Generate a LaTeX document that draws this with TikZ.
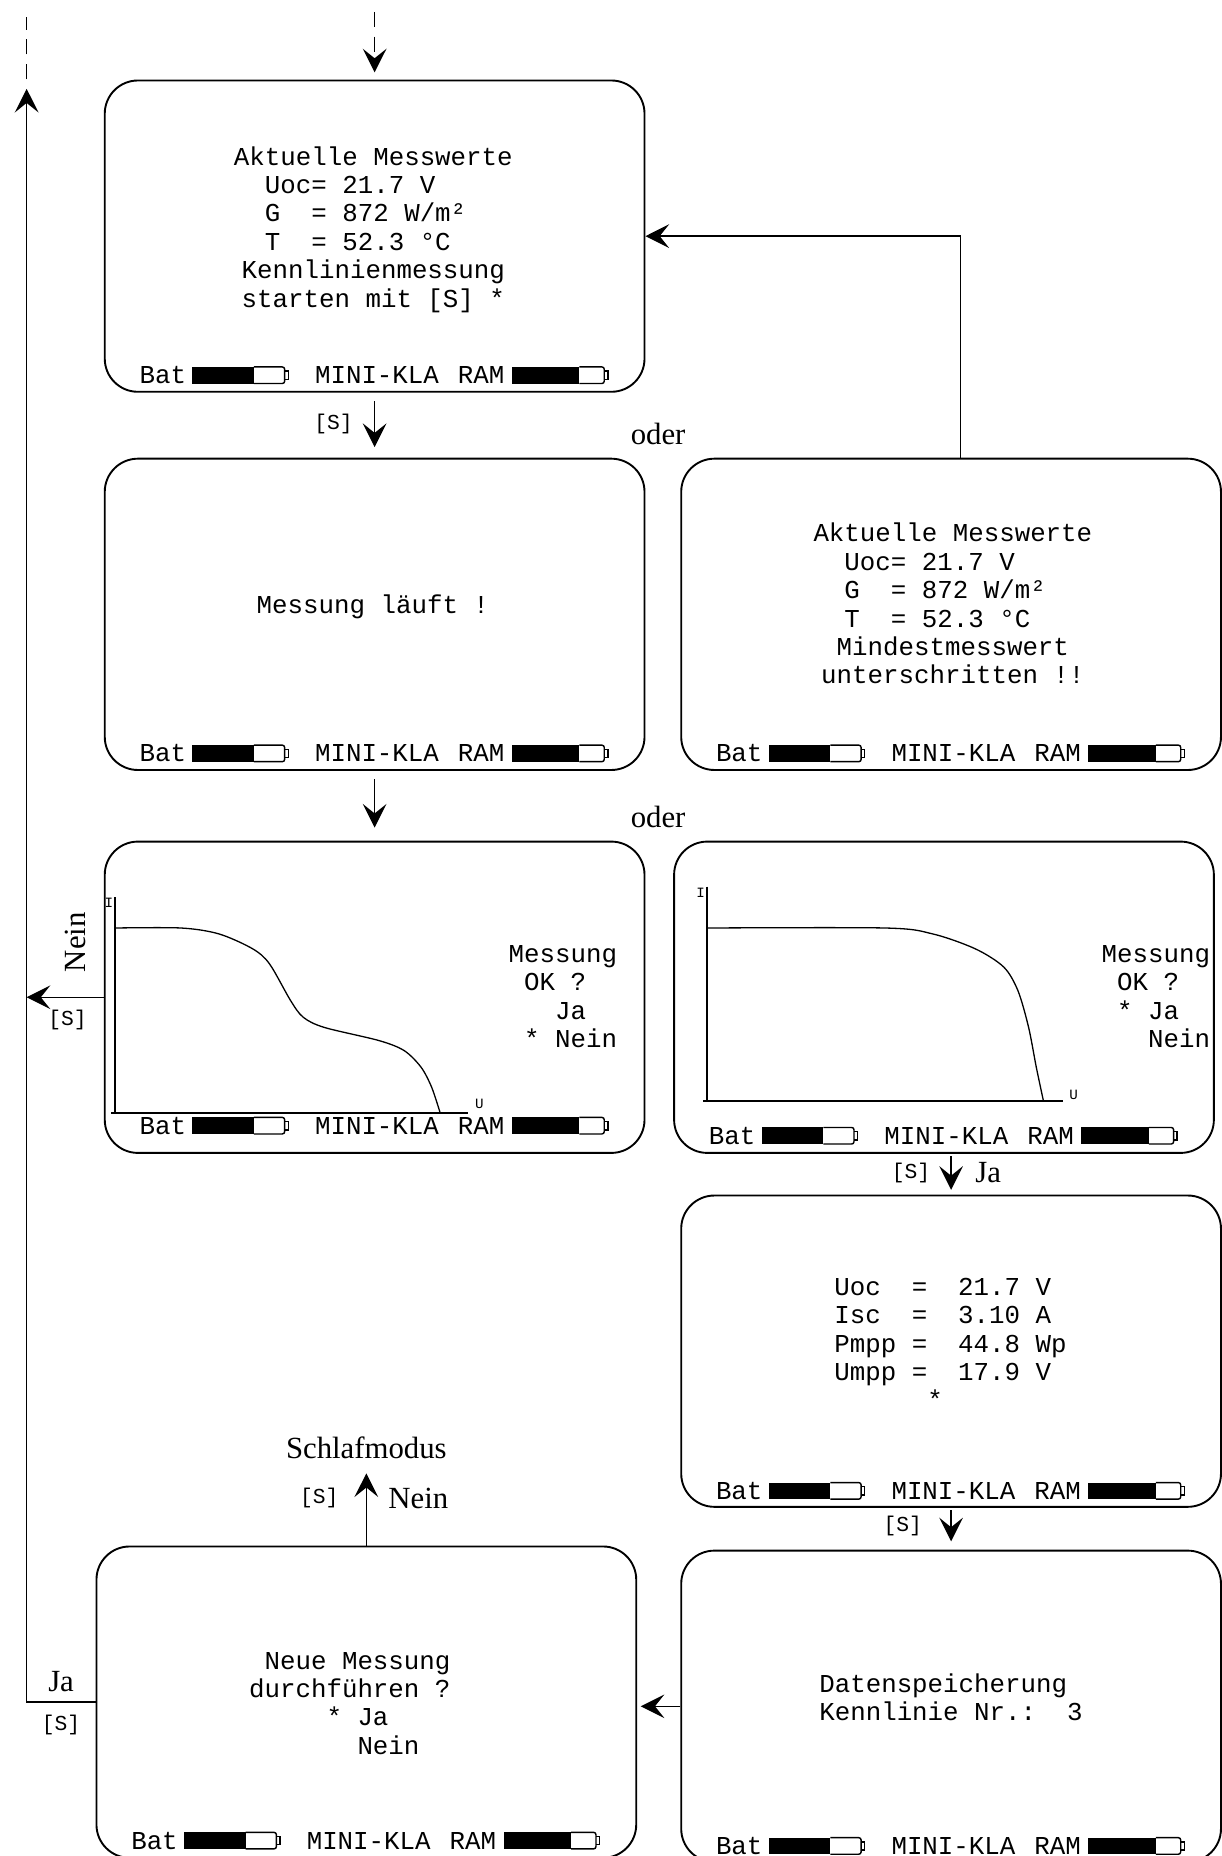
\documentclass[tikz,border=0pt]{standalone}
\usepackage{fontspec}
\setmainfont{Liberation Serif}
\setmonofont{Liberation Mono}
\usetikzlibrary{arrows.meta}

% one character of the display font
\newcommand\sk[1]{\hspace*{#1\dimexpr.6em\relax}}
% battery symbol: left end, length of the black part
\newcommand\batt[2]{%
  \fill (#1,-7) rectangle (#1+#2,7);
  \draw[line width=.6pt,rounded corners=1pt] (#1+#2,-7) -- (#1+78,-7) -- (#1+78,7) -- (#1+#2,7);
  \draw[line width=.6pt] (#1+78,-3.5) -- (#1+81,-3.5) -- (#1+81,3.5) -- (#1+78,3.5);}
% status line of a screen: name, left edge, height
\newcommand\statbar[3]{%
  \begin{scope}[shift={(#2,#3)}]
    \node[disp,anchor=west] (#1bat) at (29,0) {Bat};
    \batt{74}{52}
    \node[disp] (#1kla) at (230,0) {MINI-KLA};
    \node[disp,anchor=west] (#1ram) at (298,0) {RAM};
    \batt{344}{57}
  \end{scope}}

\begin{document}
\begin{tikzpicture}[x=0.5pt,y=-0.5pt,
  screen/.style={draw,line width=0.8pt,rounded corners=14pt,minimum width=228pt,minimum height=131.5pt,inner sep=0pt},
  disp/.style={font=\ttfamily\fontsize{10.9}{12}\selectfont,inner sep=0pt},
  flow/.style={-{Stealth[length=10pt,width=10pt,inset=4pt]},line width=0.6pt},
  lab/.style={font=\fontsize{13}{14}\selectfont,inner sep=0pt},
  sq/.style={font=\ttfamily\fontsize{9}{10}\selectfont,inner sep=0pt},
  ax/.style={line width=0.75pt},
  axlab/.style={font=\ttfamily\fontsize{6}{6}\selectfont,inner sep=0pt},
  dashline/.style={dash pattern=on 6.5pt off 4pt,line width=0.6pt}]
\useasboundingbox (0,0) rectangle (1032,1568);

% screens
\node[screen] (start) at (316.5,199.5) {};
\node[screen] (run) at (316.5,519) {};
\node[screen] (low) at (803.5,519) {};
\node[screen] (nok) at (316.5,842.5) {};
\node[screen] (ok) at (797.5,842.5) {};
\node[screen] (res) at (803.5,1141.5) {};
\node[screen] (save) at (803.5,1441.5) {};
\node[screen] (neu) at (309.5,1438) {};

\statbar{start}{88.5}{317}
\statbar{run}{88.5}{636.5}
\statbar{low}{575.5}{636.5}
\statbar{nok}{88.5}{951}
\statbar{ok}{569.5}{959.5}
\statbar{res}{575.5}{1259.5}
\statbar{save}{575.5}{1559.5}
\statbar{neu}{81.5}{1555}

% screen texts
\node[disp,align=left] (starttxt) at (315.4,193.8) {Aktuelle Messwerte\\
  \sk{2}Uoc= 21.7 V\\ \sk{2}G\sk{2}= 872 W/m²\\ \sk{2}T\sk{2}= 52.3 °C\\
  \sk{.5}Kennlinienmessung\\ \sk{.5}starten mit [S] *};
\node[disp] (runtxt) at (315,513) {Messung läuft !};
\node[disp,align=left] (lowtxt) at (805,510) {Aktuelle Messwerte\\
  \sk{2}Uoc= 21.7 V\\ \sk{2}G\sk{2}= 872 W/m²\\ \sk{2}T\sk{2}= 52.3 °C\\
  \sk{1.5}Mindestmesswert\\ \sk{.5}unterschritten !!};
\node[disp,align=left] (noktxt) at (475.5,842) {Messung\\ \sk{1}OK ?\\ \sk{3}Ja\\ \sk{1}* Nein};
\node[disp,align=left] (oktxt) at (976.5,842) {Messung\\ \sk{1}OK ?\\ \sk{1}* Ja\\ \sk{3}Nein};
\node[disp,align=left] (restxt) at (803,1135) {Uoc\sk{2}=\sk{2}21.7 V\\ Isc\sk{2}=\sk{2}3.10 A\\
  Pmpp =\sk{2}44.8 Wp\\ Umpp =\sk{2}17.9 V\\ \sk{6}*};
\node[disp,align=left] (savetxt) at (803.4,1434) {Datenspeicherung\\ Kennlinie Nr.:\sk{2}3};
\node[disp,align=left] (neutxt) at (295.5,1439) {\sk{1}Neue Messung\\ durchführen ?\\ \sk{5}* Ja\\ \sk{7}Nein};

% characteristic curves
\draw[ax] (97,758) -- (97,940);
\draw[ax] (94,940) -- (395,940);
\node[axlab,anchor=east] (nokI) at (96,763) {I};
\node[axlab] (nokU) at (405,933) {U};
\draw[line width=0.55pt] plot[smooth] coordinates {(97,784) (153,784) (185,789) (213.5,801.6)
  (227.7,814.3) (245.5,845.3) (256.2,859.4) (274,868) (320.2,879.1) (341.5,887.6)
  (355.8,901.7) (364.7,918.6) (371.8,940)};
\draw[ax] (597,749) -- (597,930);
\draw[ax] (594,930) -- (898,930);
\node[axlab,anchor=east] (okI) at (596,754) {I};
\node[axlab] (okU) at (907,925) {U};
\draw[line width=0.55pt] plot[smooth] coordinates {(597,784) (748,784) (788,789) (824,801.6)
  (848,817) (860,837) (869,868) (875.5,901.7) (881.5,930)};

% connectors
\coordinate (entry) at (316.5,10);
\coordinate (back) at (22.5,75);
\coordinate (away) at (22.5,14);
\node[lab] (sleep) at (309.5,1223) {Schlafmodus};
\node[lab] (or1) at (556,367) {oder};
\node[lab] (or2) at (556,690) {oder};

\draw[dashline,flow] (entry) -- ([yshift=3pt]start.north);
\draw[flow] ([yshift=-3.5pt]start.south) -- ([yshift=4.5pt]run.north) node[sq,midway,left=9pt] (s1) {[S]};
\draw[flow] ([yshift=-3.5pt]run.south) -- ([yshift=5.5pt]nok.north);
\draw[flow] ([xshift=4pt]low.north) |- (start.east);
\draw[flow] ([yshift=-1pt]ok.south -| res.north) -- ([yshift=2pt]res.north)
  node[sq,midway,left=8.5pt] (s2) {[S]} node[lab,midway,right=10pt] (ja1) {Ja};
\draw[flow] ([yshift=-1pt]res.south) -- ([yshift=3.5pt]save.north) node[sq,midway,left=12pt] (s3) {[S]};
\draw[flow] (save.west) -- ([xshift=1.5pt]save.west -| neu.east);
\draw[flow,shorten >=6pt] (neu.north) -- (sleep.south)
  node[sq,pos=0.55,left=11.5pt] (s4) {[S]} node[lab,pos=0.55,right=9pt] (nein1) {Nein};
\draw[flow] (nok.west) -- (nok.west -| back);
\node[lab,rotate=90] (nein2) at (63.5,796) {Nein};
\node[sq] (s5) at (57,862) {[S]};
\draw[flow] (neu.west) -| (back) node[lab,pos=0.25,above=4pt] (ja2) {Ja} node[sq,pos=0.25,below=5pt] (s6) {[S]};
\draw[dashline] ([yshift=4pt]back) -- (away);
\end{tikzpicture}
\end{document}
